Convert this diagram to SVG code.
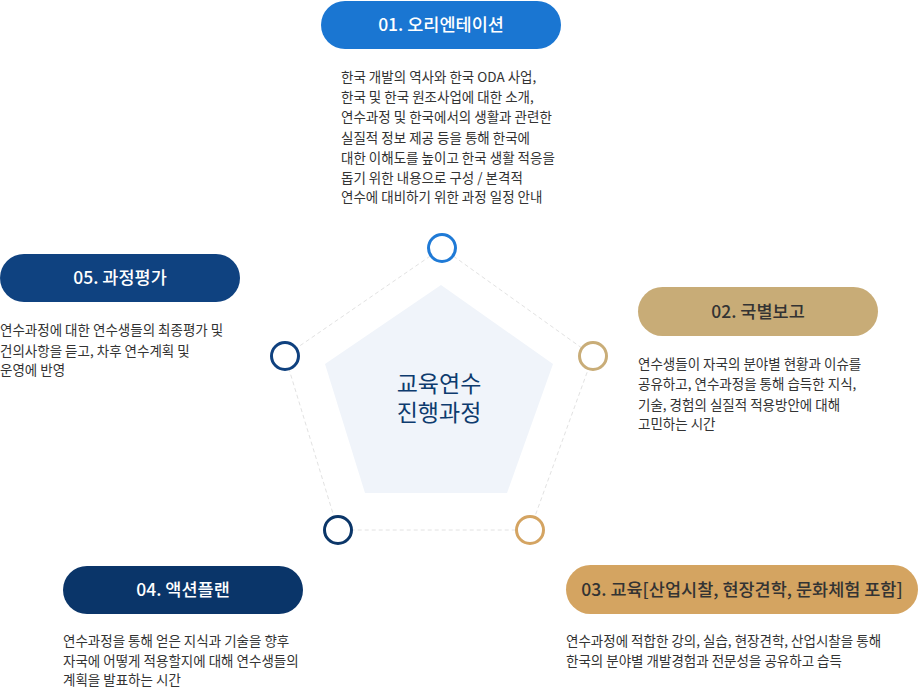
<svg xmlns="http://www.w3.org/2000/svg" width="918" height="688" viewBox="0 0 918 688">
<style>
text{font-family:"Noto Sans CJK KR","Noto Sans",sans-serif}
.pt{font-size:17.5px;font-weight:500;text-anchor:middle}
.w{fill:#fff}
.d{fill:#333}
.desc{font-size:13.5px;fill:#333}
.ring{fill:#fff;stroke-width:3}
.dash{stroke:#e2e2e2;stroke-width:1;stroke-dasharray:4 3;fill:none}
</style>
<rect width="918" height="688" fill="#fff"/>
<g id="connectors">
<polygon class="dash" points="442,248 593,356 530,530 338,530 285,356"/>
</g>
<g id="center">
<polygon points="441,285 553,364 507,493 365,493 325,364" fill="#f0f4fa"/>
<text font-size="23" fill="#0d3b6e" text-anchor="middle"><tspan x="439" y="392">교육연수</tspan><tspan x="439" y="421">진행과정</tspan></text>
</g>
<g id="c1"><circle class="ring" cx="442" cy="248" r="13.5" stroke="#1f7ad6"/></g>
<g id="c2"><circle class="ring" cx="593" cy="356" r="13.5" stroke="#c9ad78"/></g>
<g id="c3"><circle class="ring" cx="530" cy="530" r="13.5" stroke="#d4a462"/></g>
<g id="c4"><circle class="ring" cx="338" cy="530" r="13.5" stroke="#0b3668"/></g>
<g id="c5"><circle class="ring" cx="285" cy="356" r="13.5" stroke="#0f417f"/></g>
<g id="n1">
<rect x="321" y="1" width="240" height="48" rx="24" fill="#1a76d2"/>
<text class="pt w" x="441" y="31">01. 오리엔테이션</text>
<text class="desc" x="341" y="82">한국 개발의 역사와 한국 ODA 사업,</text>
<text class="desc" x="341" y="102">한국 및 한국 원조사업에 대한 소개,</text>
<text class="desc" x="341" y="122">연수과정 및 한국에서의 생활과 관련한</text>
<text class="desc" x="341" y="143">실질적 정보 제공 등을 통해 한국에</text>
<text class="desc" x="341" y="163">대한 이해도를 높이고 한국 생활 적응을</text>
<text class="desc" x="341" y="183">돕기 위한 내용으로 구성 / 본격적</text>
<text class="desc" x="341" y="202">연수에 대비하기 위한 과정 일정 안내</text>
</g>
<g id="n2">
<rect x="638" y="287" width="240" height="49" rx="24.5" fill="#c8ac77"/>
<text class="pt d" x="758" y="318">02. 국별보고</text>
<text class="desc" x="638" y="369">연수생들이 자국의 분야별 현황과 이슈를</text>
<text class="desc" x="638" y="389">공유하고, 연수과정을 통해 습득한 지식,</text>
<text class="desc" x="638" y="410">기술, 경험의 실질적 적용방안에 대해</text>
<text class="desc" x="638" y="429">고민하는 시간</text>
</g>
<g id="n3">
<rect x="566" y="565" width="352" height="49" rx="24.5" fill="#d4a461"/>
<text class="pt d" x="742" y="596">03. 교육[산업시찰, 현장견학, 문화체험 포함]</text>
<text class="desc" x="566" y="646">연수과정에 적합한 강의, 실습, 현장견학, 산업시찰을 통해</text>
<text class="desc" x="566" y="666">한국의 분야별 개발경험과 전문성을 공유하고 습득</text>
</g>
<g id="n4">
<rect x="63" y="566" width="240" height="48" rx="24" fill="#0a3569"/>
<text class="pt w" x="183" y="596">04. 액션플랜</text>
<text class="desc" x="63" y="646">연수과정을 통해 얻은 지식과 기술을 향후</text>
<text class="desc" x="63" y="666">자국에 어떻게 적용할지에 대해 연수생들의</text>
<text class="desc" x="63" y="685">계획을 발표하는 시간</text>
</g>
<g id="n5">
<rect x="0" y="254" width="240" height="48" rx="24" fill="#0f4280"/>
<text class="pt w" x="120" y="284">05. 과정평가</text>
<text class="desc" x="0" y="335">연수과정에 대한 연수생들의 최종평가 및</text>
<text class="desc" x="0" y="356">건의사항을 듣고, 차후 연수계획 및</text>
<text class="desc" x="0" y="375">운영에 반영</text>
</g>
</svg>
